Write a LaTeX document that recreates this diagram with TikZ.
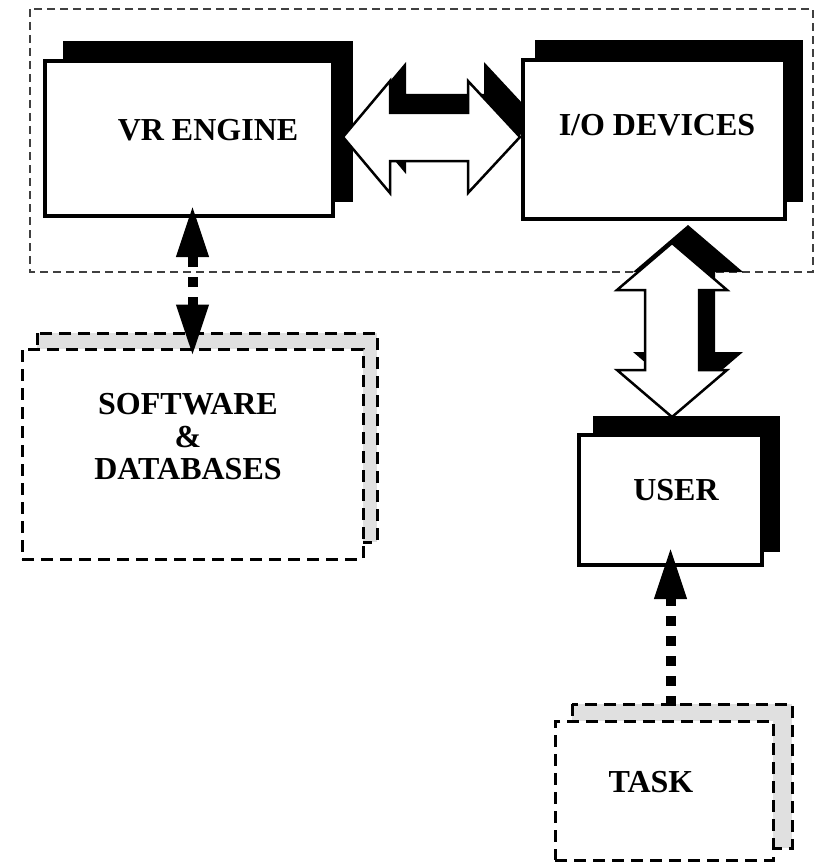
\documentclass[tikz,border=0pt]{standalone}
\usepackage{fontspec}
\setmainfont{Liberation Serif}
\usetikzlibrary{arrows.meta,calc}

\tikzset{
  box/.style={draw,fill=white,line width=4pt,inner sep=0pt},
  dbox/.style={draw,fill=white,line width=3pt,dash pattern=on 12pt off 7pt,inner sep=0pt},
  lbl/.style={font=\bfseries\fontsize{32}{32.5}\selectfont,align=center,inner sep=0pt},
  blockarrow/.style={draw,fill=white,line width=2.5pt},
  dotarrow/.style={line width=10pt,dash pattern=on 10pt off 10pt}
}

\begin{document}
\begin{tikzpicture}[x=1pt,y=-1pt,>={Triangle[length=52pt,width=30pt]}]
\useasboundingbox (0,0) rectangle (816,864);

% system boundary
\draw[black!75,line width=1.5pt,dash pattern=on 8pt off 5pt] (30,9) rectangle (813,272);

% shadows of the solid boxes
\fill (63,41) rectangle (353,202);
\fill (535,40) rectangle (803,202);
\fill (593,416) rectangle (780,552);

% grey back sheets of the dashed boxes
\draw[dbox,fill=black!12] (37,333) rectangle (377,542);
\draw[dbox,fill=black!12] (572,704) rectangle (792,848);

% block arrow shadows
\fill[shift={(16,-19)}] (343,137) -- (390,81) -- (390,113) -- (468,113) -- (468,81) -- (520,137)
  -- (468,193) -- (468,161) -- (390,161) -- (390,193) -- cycle;
\fill[shift={(16,-18)}] (672,243) -- (727,290) -- (699,290) -- (699,370) -- (727,370) -- (672,417)
  -- (617,370) -- (645,370) -- (645,290) -- (617,290) -- cycle;

% block arrows
\draw[blockarrow] (343,137) -- (390,81) -- (390,113) -- (468,113) -- (468,81) -- (520,137)
  -- (468,193) -- (468,161) -- (390,161) -- (390,193) -- cycle;
\draw[blockarrow] (672,243) -- (727,290) -- (699,290) -- (699,370) -- (727,370) -- (672,417)
  -- (617,370) -- (645,370) -- (645,290) -- (617,290) -- cycle;

% boxes
\node[box,minimum width=288pt,minimum height=155pt] (vr) at (189,138.5) {};
\node[box,minimum width=262pt,minimum height=159pt] (io) at (654,139.5) {};
\node[box,minimum width=183pt,minimum height=130pt] (user) at (670.5,500) {};
\node[dbox,minimum width=341pt,minimum height=210pt] (sw) at (192.5,454) {};
\node[dbox,minimum width=218pt,minimum height=139pt] (task) at (664,790.5) {};

% labels
\node[lbl] (vrtext) at (208,130) {VR ENGINE};
\node[lbl] (iotext) at (657,125) {I/O DEVICES};
\node[lbl] (usertext) at (676,490) {USER};
\node[lbl] (swtext) at (188,437) {SOFTWARE\\\&\\DATABASES};
\node[lbl] (tasktext) at (651,782) {TASK};

% dotted links
\draw[dotarrow,<->] ($(sw.north)+(0,9)$) -- ($(sw.north |- vr.south)+(0,-13)$);
\draw[dotarrow,->] ($(user.south |- task.north)+(0,-14)$) -- ($(user.south)+(0,-20)$);
\end{tikzpicture}
\end{document}
